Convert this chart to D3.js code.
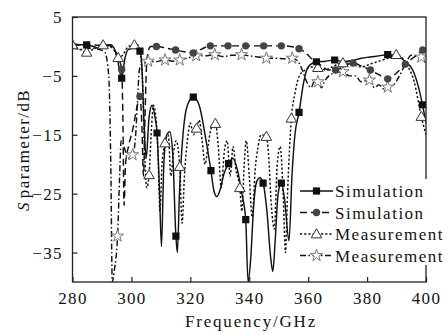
<!DOCTYPE html>
<html>
<head>
<meta charset="utf-8">
<script src="https://cdn.jsdelivr.net/npm/d3@7"></script>
<style>
  body { margin: 0; background: #fff; }
  text { font-family: "Liberation Serif", "Times New Roman", serif; fill: #111; }
</style>
</head>
<body>
<div id="chart"></div>
<script>
// frequency (GHz) / dB pairs
const simS11 = [[280,0.5],[282,0.3],[284.8,0.25],[287,0.0],[289,-0.3],[290.8,0.2],[293,0.3],[295,-1.5],[296.7,-5.4],[297.8,-2],[299,-0.5],[301,-0.3],[302.9,-0.8],[303.5,-3],[304.2,-12],[305,-19],[306,-12],[307,-10],[308,-12],[308.7,-14.7],[309.5,-24],[310.2,-34],[311,-20],[312,-15],[313,-14.5],[314,-18],[315.1,-32.2],[315.6,-35],[316.3,-25],[317.5,-15],[319,-10],[321,-8.6],[323,-10],[325,-15],[327,-21.1],[328,-24.5],[329,-25.5],[330,-24.5],[331.5,-21.5],[333,-19.9],[334.4,-19],[336,-21],[337.5,-25],[338.8,-29.4],[339.6,-40],[340.5,-36],[341.5,-27],[342.5,-23],[343.6,-22.3],[344.7,-23.2],[346,-28],[347.3,-36],[348,-38.2],[348.8,-33],[349.8,-25],[350.9,-23.2],[352,-26],[353.5,-33],[354.5,-22],[355.5,-15],[356.9,-11.2],[358.5,-6],[360,-3.5],[362.8,-2.6],[366,-2.5],[369,-2.3],[372,-2.6],[375,-2.4],[378,-2],[381,-1.8],[384,-1.6],[387,-1.4],[390,-1.5],[393,-2.6],[395.5,-4],[397.5,-7],[398.8,-9.9],[400,-13]];
const simS11Marks = [[284.8,0.25],[296.7,-5.4],[302.9,-0.8],[308.7,-14.7],[315.1,-32.2],[321,-8.6],[327,-21.1],[333,-19.9],[338.8,-29.4],[344.7,-23.2],[350.9,-23.2],[356.9,-11.2],[362.8,-2.6],[369,-2.3],[387,-1.4],[398.8,-9.9]];

const simS21 = [[280,0.3],[283,0.2],[286,0.3],[289,0.2],[292,0.2],[294.5,-0.8],[296,-2.5],[296.7,-3.9],[297.1,-12],[297.5,-27],[298,-20],[299,-17],[300.5,-14],[302,-10],[302.9,-8.5],[303.6,-14],[304.1,-22],[304.6,-12],[305.3,-2],[306.5,0],[308.5,0],[312,-0.3],[315,-0.6],[318,-0.9],[321,-1.1],[324,-0.4],[326.8,0.1],[332.8,0.1],[338.8,0.1],[344.9,0.1],[350.9,0.1],[354,0],[356.9,-0.4],[359,-1],[361,-2],[362.8,-2.6],[365,-3.5],[367,-4],[369.3,-4],[372,-3.4],[375.2,-2.8],[378,-3.3],[381.1,-4],[384,-4.8],[387,-5.5],[390,-4.5],[393,-3],[396,-1.8],[398.9,-0.6],[400,-0.3]];
const simS21Marks = [[296.7,-3.9],[302.9,-8.5],[308.5,0],[315,-0.6],[321,-1.1],[326.8,0.1],[332.8,0.1],[338.8,0.1],[344.9,0.1],[350.9,0.1],[356.9,-0.4],[369.3,-4],[375.2,-2.8],[381.1,-4],[387,-5.5],[393,-3],[398.9,-0.6]];

const measS11 = [[280,0.3],[282.5,-0.5],[284.8,-1.0],[287,-0.5],[290.4,0.25],[292.5,0],[294,-0.5],[295.5,-1.9],[297,-1.5],[299,0],[301,0.25],[302,0.3],[303,-1],[303.8,-6],[304.5,-18],[305.2,-24],[306,-21.8],[306.8,-14],[307.5,-10],[308.3,-12],[309,-18],[309.7,-28],[310.4,-20],[311.4,-16.4],[312.5,-15],[313.4,-22],[314.3,-18],[315.2,-16],[316.4,-20.4],[317.2,-30],[318,-22],[319,-16],[320,-13],[321,-15],[322.1,-13.9],[323,-12.5],[324,-16],[325,-20],[326,-17],[327,-14],[328.5,-13.1],[329.5,-17],[330.5,-24],[331.5,-18],[332.5,-16],[333.5,-22],[334.5,-17],[335.5,-21],[336.8,-24],[337.5,-28],[338.3,-20],[339,-16],[340,-22],[341,-29],[342,-21],[343,-17],[344,-15],[345.8,-15.3],[346.5,-18],[347.5,-27],[348.5,-31],[349.5,-20],[350.5,-17],[351.5,-25],[352.3,-35],[353,-25],[354.3,-12.2],[355.5,-8],[357,-5],[359,-4],[361,-3.5],[363.3,-3.6],[366,-4],[368,-3.5],[371.8,-2.8],[375,-3],[378,-3.5],[381,-3],[384,-2.5],[387,-2],[389.9,-1.4],[392,-2],[394,-3.5],[396,-6],[398.4,-11.9],[400,-15]];
const measS11Marks = [[280,0.25],[284.8,-1.0],[290.4,0.25],[295.5,-1.9],[301,0.25],[306,-21.8],[311.4,-16.4],[316.4,-20.4],[322.1,-13.9],[328.5,-13.1],[336.8,-24],[345.8,-15.3],[354.3,-12.2],[363.3,-3.6],[371.8,-2.8],[389.9,-1.4],[398.4,-11.9]];

const measS21 = [[280,-0.2],[283,-0.5],[286,-0.3],[289,-0.5],[291,-1],[292.3,-5],[293,-20],[293.5,-40],[294.2,-38],[295.3,-32.2],[296,-22],[296.5,-16],[297.5,-17],[298.8,-19],[300.4,-18.4],[301.3,-16],[302,-10],[302.7,-4],[303.5,-3],[304.5,-2.8],[305.7,-2.5],[308,-2.6],[311.4,-2.3],[314,-2.5],[316.4,-2.3],[319,-2],[322,-1.6],[325,-1.6],[328.3,-1.4],[331,-1.7],[334,-1.5],[337.4,-1.4],[340,-1.6],[343,-1.8],[345.8,-2.0],[349,-2],[352,-2.1],[354.6,-2.0],[356.5,-2.5],[358,-4],[359.5,-6],[361,-7],[362,-6],[363.3,-6],[364.5,-7],[365.5,-6],[367,-5],[369,-4.5],[371.8,-4.3],[374,-5],[376,-5],[378,-6],[380.8,-5.7],[382.5,-7],[384,-6.5],[385.5,-7.2],[387,-6.9],[389,-6.5],[391,-5],[393,-3],[395,-1.5],[398.4,-1.8],[400,-3]];
const measS21Marks = [[295.3,-32.2],[300.4,-18.4],[305.7,-2.5],[311.4,-2.3],[316.4,-2.3],[322,-1.6],[328.3,-1.4],[337.4,-1.4],[345.8,-2.0],[354.6,-2.0],[363.3,-6],[371.8,-4.3],[380.8,-5.7],[387,-6.9],[398.4,-1.8]];

const seriesNames = ["Simulation", "Simulation", "Measurement", "Measurement"];
const freqTicks = [280, 300, 320, 340, 360, 380, 400];
const dbTicks = [5, -5, -15, -25, -35];

const W = 448, H = 335;
const svg = d3.select("#chart").append("svg").attr("width", W).attr("height", H);

const x = d3.scaleLinear().domain([280, 400]).range([72.5, 426]);
const y = d3.scaleLinear().domain([-40, 5]).range([282, 17]);

svg.append("clipPath").attr("id", "plot")
  .append("rect").attr("x", 72.5).attr("y", 17).attr("width", 353.5).attr("height", 265);

// series styling
const styles = [
  {data: simS11, marks: simS11Marks, dash: null, sym: "square"},
  {data: simS21, marks: simS21Marks, dash: "7,4", sym: "circle"},
  {data: measS11, marks: measS11Marks, dash: "2.2,2", sym: "triangle"},
  {data: measS21, marks: measS21Marks, dash: "6,2.5,1.5,2.5", sym: "star"}
];

function drawMarker(g, sym) {
  if (sym === "square") {
    g.append("path").attr("d", d3.symbol(d3.symbolSquare, 52)()).attr("fill", "#111");
  } else if (sym === "circle") {
    g.append("circle").attr("r", 3.7).attr("fill", "#444");
  } else if (sym === "triangle") {
    g.append("path").attr("d", d3.symbol(d3.symbolTriangle, 48)()).attr("transform", "translate(0,0.8)")
      .attr("fill", "#fff").attr("stroke", "#333").attr("stroke-width", 1);
  } else {
    g.append("path").attr("d", d3.symbol(d3.symbolStar, 46)())
      .attr("fill", "#fff").attr("stroke", "#777").attr("stroke-width", 1);
  }
}

const line = d3.line().x(d => x(d[0])).y(d => y(d[1])).curve(d3.curveMonotoneX);

const plot = svg.append("g").attr("clip-path", "url(#plot)");
styles.slice().reverse().forEach(s => {
  plot.append("path")
    .attr("d", line(s.data))
    .attr("fill", "none")
    .attr("stroke", "#111")
    .attr("stroke-width", 1.45)
    .attr("stroke-dasharray", s.dash);
});
styles.slice().reverse().forEach(s => {
  s.marks.forEach(d => {
    const g = plot.append("g").attr("transform", `translate(${x(d[0])},${y(d[1])})`);
    drawMarker(g, s.sym);
  });
});

// frame
svg.append("rect").attr("x", 72.5).attr("y", 17).attr("width", 353.5).attr("height", 265)
  .attr("fill", "none").attr("stroke", "#222").attr("stroke-width", 1.3);

const xAxis = svg.append("g").attr("transform", "translate(0,282)")
  .call(d3.axisBottom(x).tickValues(freqTicks).tickSize(-5).tickPadding(13).tickFormat(d3.format("d")));
const yAxis = svg.append("g").attr("transform", "translate(72.5,0)")
  .call(d3.axisLeft(y).tickValues(dbTicks).tickSize(-5).tickPadding(8).tickFormat(d3.format("d")));
[xAxis, yAxis].forEach(a => {
  a.select(".domain").remove();
  a.selectAll(".tick line").attr("stroke", "#222").attr("stroke-width", 1.2);
  a.selectAll(".tick text").attr("font-family", "Liberation Serif, serif")
    .attr("font-size", 17).attr("letter-spacing", 1.3).attr("fill", "#111");
});
xAxis.selectAll(".tick text").attr("dy", "0.55em");
yAxis.selectAll(".tick text").attr("dx", "-0.1em");

svg.append("text").attr("x", 251).attr("y", 327).attr("text-anchor", "middle")
  .attr("font-size", 17).attr("letter-spacing", 1.8).text("Frequency/GHz");

const yt = svg.append("text").attr("transform", "translate(29,150) rotate(-90)")
  .attr("text-anchor", "middle").attr("font-size", 17).attr("letter-spacing", 1.4);
yt.append("tspan").attr("font-style", "italic").text("S");
yt.append("tspan").attr("dx", 3).text("parameter/dB");

// legend
const leg = svg.append("g");
leg.append("rect").attr("x", 297).attr("y", 179).attr("width", 151).attr("height", 86).attr("fill", "#fff");
styles.forEach((s, i) => {
  const cy = 191 + i * 21.5;
  leg.append("line").attr("x1", 300).attr("x2", 333).attr("y1", cy).attr("y2", cy)
    .attr("stroke", "#111").attr("stroke-width", 1.45).attr("stroke-dasharray", s.dash);
  const g = leg.append("g").attr("transform", `translate(316.5,${cy})`);
  drawMarker(g, s.sym);
  leg.append("text").attr("x", 335).attr("y", cy + 6).attr("font-size", 17)
    .attr("letter-spacing", 1.5).text(seriesNames[i]);
});
</script>
</body>
</html>
